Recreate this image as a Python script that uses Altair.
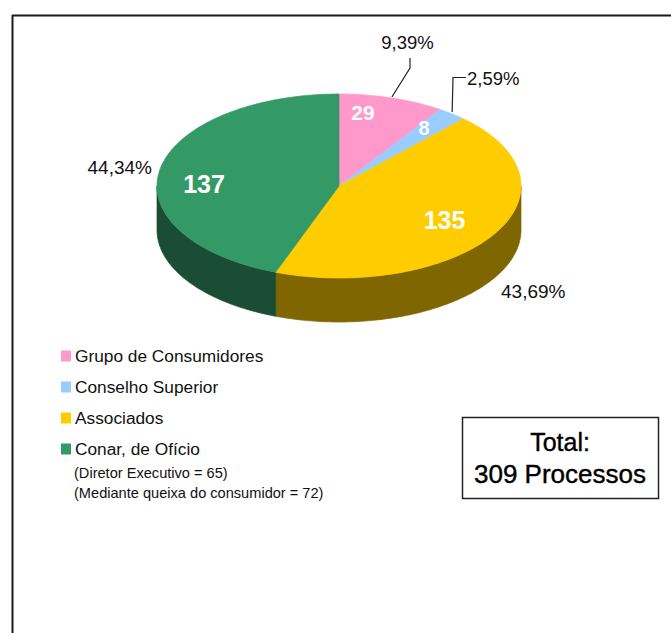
import numpy as np
import pandas as pd
import altair as alt

# Cases per origin, clockwise from twelve o'clock
names = ["Grupo de Consumidores", "Conselho Superior", "Associados", "Conar, de Ofício"]
cases = [29, 8, 135, 137]
top_colors = ["#FF99CC", "#99CCFF", "#FFCC00", "#339966"]
side_colors = ["#804D66", "#4D6680", "#806600", "#1A4D33"]
sub_notes = ["(Diretor Executivo = 65)", "(Mediante queixa do consumidor = 72)"]

W, H = 671, 633
CX, CY, RX, RY, DEPTH = 339.0, 186.0, 182.0, 92.0, 44.0
FONT = "Liberation Sans"

x_scale = alt.Scale(domain=[0, W], range=[0, W])
y_scale = alt.Scale(domain=[0, H], range=[0, H])
total = sum(cases)
edges = np.concatenate([[0.0], np.cumsum(cases) / total * 360.0])


def rim(t_deg):
    t = np.radians(t_deg)
    return CX + RX * np.sin(t), CY - RY * np.cos(t)


def arc_angles(a, b):
    return np.concatenate([[a], np.arange(np.ceil(a), b, 1.0), [b]])


def wedge_frame(a, b):
    """Upper and lower outline of one slice's lid, per x position."""
    xs, ys = rim(arc_angles(a, b))
    px = np.concatenate([[CX], xs, [CX]])
    py = np.concatenate([[CY], ys, [CY]])
    rows = []
    for x in np.unique(px):
        hits = []
        for i in range(len(px) - 1):
            x0, x1, y0, y1 = px[i], px[i + 1], py[i], py[i + 1]
            if min(x0, x1) <= x <= max(x0, x1):
                if x0 == x1:
                    hits += [y0, y1]
                else:
                    hits.append(y0 + (y1 - y0) * (x - x0) / (x1 - x0))
        rows.append({"x": x, "y": min(hits), "y2": max(hits)})
    return pd.DataFrame(rows)


def wall_frame(a, b):
    """Front wall of the disc between two rim angles."""
    xs, ys = rim(arc_angles(a, b))
    return pd.DataFrame({"x": xs, "y": ys, "y2": ys + DEPTH}).sort_values("x")


def area_layer(frame, color):
    return alt.Chart(frame).mark_area(stroke=color, strokeWidth=0.7, fill=color).encode(
        x=alt.X("x:Q", scale=x_scale, axis=None),
        y=alt.Y("y:Q", scale=y_scale, axis=None),
        y2="y2:Q",
    )


def label(text, x, y, size, align="left", color="#111111", weight="normal", **extra):
    return alt.Chart(alt.Data(values=[{}])).mark_text(
        text=text, font=FONT, fontSize=size, align=align, baseline="middle",
        color=color, fontWeight=weight, **extra,
    ).encode(x=alt.value(x), y=alt.value(y))


def pct(n):
    return f"{n / total * 100:.2f}%".replace(".", ",")


def leader(points):
    frame = pd.DataFrame(points, columns=["x", "y"]).assign(step=range(len(points)))
    return alt.Chart(frame).mark_line(color="#222222", strokeWidth=1.2).encode(
        x=alt.X("x:Q", scale=x_scale, axis=None),
        y=alt.Y("y:Q", scale=y_scale, axis=None),
        order="step:Q",
    )


layers = []

# Outer frame: only the left and top edges fall inside the canvas
frame_mark = dict(color="#1a1a1a", strokeWidth=2)
layers.append(alt.Chart(alt.Data(values=[{}])).mark_rule(**frame_mark).encode(
    x=alt.value(12.5), y=alt.value(15), y2=alt.value(H)))
layers.append(alt.Chart(alt.Data(values=[{}])).mark_rule(**frame_mark).encode(
    x=alt.value(12), x2=alt.value(W), y=alt.value(15.5)))

# Visible wall spans the lower half of the rim (90 to 270 degrees)
for i in range(len(cases)):
    a, b = max(edges[i], 90.0), min(edges[i + 1], 270.0)
    if a < b:
        layers.append(area_layer(wall_frame(a, b), side_colors[i]))

for i in range(len(cases)):
    layers.append(area_layer(wedge_frame(edges[i], edges[i + 1]), top_colors[i]))

# Case counts printed on the slices
count_spots = [(363, 113.5, 21), (424, 128.5, 20), (444.5, 220.5, 25), (204, 184.5, 25)]
for n, (x, y, s) in zip(cases, count_spots):
    layers.append(label(str(n), x, y, s, align="center", color="white", weight="bold"))

# Share labels, two of them tied to their slice with a leader
mid = (edges[:-1] + edges[1:]) / 2
mx0, my0 = rim(mid[0])
mx1, my1 = rim(mid[1])
layers.append(leader([(410, 58), (410, 68), (mx0, my0 - 1)]))
layers.append(leader([(466, 77.5), (453, 77.5), (mx1, my1 - 2)]))
layers.append(label(pct(cases[0]), 407.5, 43, 18.5, align="center"))
layers.append(label(pct(cases[1]), 467, 79, 18.5))
layers.append(label(pct(cases[2]), 501, 292, 19))
layers.append(label(pct(cases[3]), 152, 168, 19, align="right"))

# Legend
legend = pd.DataFrame({"name": names, "color": top_colors})
for i, row in legend.iterrows():
    row_y = 356 + 31 * i
    layers.append(alt.Chart(alt.Data(values=[{}])).mark_rect(color=row["color"]).encode(
        x=alt.value(61), x2=alt.value(71), y=alt.value(row_y - 5.5), y2=alt.value(row_y + 5.5)))
    layers.append(label(row["name"], 75, row_y + 0.5, 17.3))
layers.append(label(sub_notes[0], 74, 473.5, 14.6))
layers.append(label(sub_notes[1], 74, 493.5, 14.6))

# Total box
layers.append(alt.Chart(alt.Data(values=[{}])).mark_rect(
    fill="white", stroke="#222222", strokeWidth=1.5).encode(
    x=alt.value(462.5), x2=alt.value(658.5), y=alt.value(417.5), y2=alt.value(498.5)))
layers.append(label("Total:", 560, 443, 25, align="center", color="black",
                    stroke="black", strokeWidth=0.4))
layers.append(label(f"{total} Processos", 560, 475, 26, align="center", color="black",
                    stroke="black", strokeWidth=0.4))

chart = alt.layer(*layers).properties(
    width=W, height=H, padding=0, background="white", autosize=alt.AutoSizeParams(type="none"),
).configure_view(stroke=None)

chart.save("out.html", embed_options={"renderer": "svg", "actions": False})
